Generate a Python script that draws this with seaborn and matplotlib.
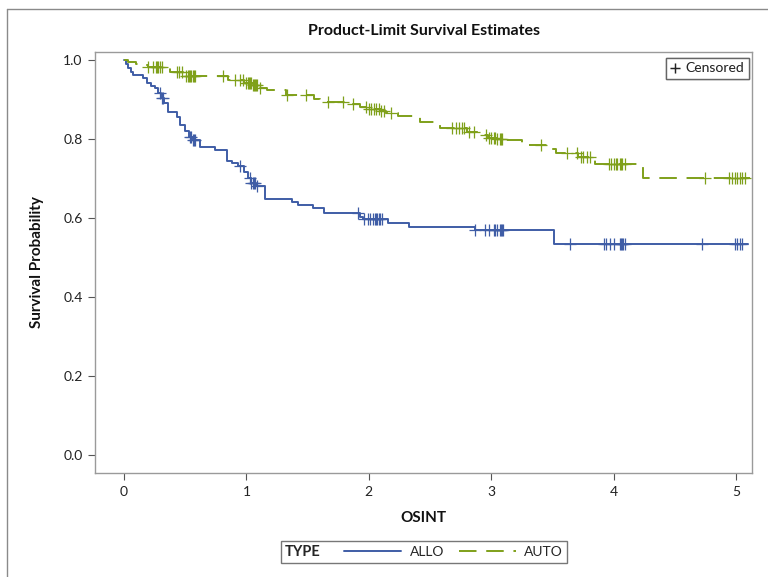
import numpy as np
import pandas as pd
import matplotlib
matplotlib.use("Agg")
import matplotlib.pyplot as plt
from matplotlib.lines import Line2D
from matplotlib.offsetbox import HPacker
import seaborn as sns

# ---- data ----
allo_time = [0.0, 0.02, 0.035, 0.06, 0.076, 0.158, 0.185, 0.22, 0.25, 0.28, 0.30, 0.33, 0.36,
             0.43, 0.46, 0.50, 0.53, 0.56, 0.62, 0.74, 0.84, 0.88, 0.93, 0.98, 1.01, 1.04,
             1.08, 1.15, 1.37, 1.42, 1.54, 1.63, 1.93, 1.95, 2.16, 2.33, 2.87, 3.51, 5.10]
allo_surv = [1.0, 0.99, 0.979, 0.97, 0.962, 0.954, 0.941, 0.935, 0.928, 0.915, 0.903, 0.89, 0.869,
             0.856, 0.835, 0.82, 0.805, 0.797, 0.78, 0.772, 0.745, 0.738, 0.732, 0.715, 0.70, 0.688,
             0.68, 0.647, 0.641, 0.633, 0.625, 0.612, 0.603, 0.597, 0.588, 0.576, 0.569, 0.533, 0.533]
allo_cens = [0.29, 0.31, 0.32, 0.54, 0.55, 0.56, 0.57, 0.58, 0.95, 1.03, 1.04, 1.05, 1.06, 1.07,
             1.09, 1.91, 1.96, 1.99, 2.01, 2.03, 2.05, 2.06, 2.07, 2.08, 2.09, 2.11, 2.87, 2.95,
             2.98, 3.02, 3.03, 3.045, 3.07, 3.08, 3.09, 3.10, 3.64, 3.92, 3.94, 3.97, 4.0, 4.05,
             4.06, 4.07, 4.08, 4.09, 4.72, 4.99, 5.01, 5.03, 5.05]

auto_time = [0.0, 0.03, 0.10, 0.16, 0.20, 0.35, 0.375, 0.48, 0.50, 0.85, 0.98, 1.05, 1.11, 1.17,
             1.32, 1.55, 1.60, 1.83, 1.93, 2.00, 2.10, 2.14, 2.24, 2.42, 2.58, 2.80, 2.90, 2.97,
             3.05, 3.10, 3.25, 3.46, 3.53, 3.71, 3.85, 4.24, 5.11]
auto_surv = [1.0, 0.995, 0.99, 0.987, 0.983, 0.979, 0.97, 0.964, 0.958, 0.949, 0.942, 0.937, 0.93,
             0.924, 0.911, 0.90, 0.894, 0.888, 0.882, 0.876, 0.87, 0.865, 0.857, 0.844, 0.827, 0.818,
             0.81, 0.803, 0.80, 0.796, 0.785, 0.774, 0.764, 0.754, 0.737, 0.702, 0.702]
auto_cens = [0.20, 0.24, 0.26, 0.27, 0.28, 0.29, 0.31, 0.43, 0.45, 0.47, 0.51, 0.52, 0.53, 0.54,
             0.55, 0.56, 0.57, 0.58, 0.81, 0.91, 0.95, 0.97, 1.0, 1.01, 1.02, 1.03, 1.04, 1.05,
             1.06, 1.07, 1.08, 1.09, 1.11, 1.33, 1.49, 1.67, 1.79, 1.87, 1.98, 2.0, 2.02, 2.04,
             2.06, 2.08, 2.10, 2.12, 2.18, 2.68, 2.71, 2.74, 2.76, 2.78, 2.82, 2.86, 2.96, 2.98,
             3.0, 3.02, 3.03, 3.05, 3.07, 3.08, 3.09, 3.41, 3.62, 3.70, 3.73, 3.75, 3.78, 3.81,
             3.96, 3.98, 4.0, 4.02, 4.03, 4.05, 4.06, 4.07, 4.09, 4.75, 4.94, 4.97, 4.99, 5.01,
             5.03, 5.05, 5.07]

x_ticks = [0, 1, 2, 3, 4, 5]
y_ticks = [0.0, 0.2, 0.4, 0.6, 0.8, 1.0]

BLUE = "#3F5DA6"
GREEN = "#7FA01A"

sns.set_theme(style="white")
plt.rcParams["font.family"] = ["Lato", "DejaVu Sans"]

fig = plt.figure(figsize=(7.68, 5.77), dpi=100)
ax = fig.add_axes([95 / 768, 1 - 473 / 577, (752 - 95) / 768, (473 - 52) / 577])


def step_value(times, survs, t):
    idx = np.searchsorted(np.asarray(times), t, side="right") - 1
    return np.asarray(survs)[idx]


df_allo = pd.DataFrame({"t": allo_time, "s": allo_surv})
df_auto = pd.DataFrame({"t": auto_time, "s": auto_surv})
cens_allo = pd.DataFrame({"t": allo_cens, "s": step_value(allo_time, allo_surv, allo_cens)})
cens_auto = pd.DataFrame({"t": auto_cens, "s": step_value(auto_time, auto_surv, auto_cens)})

sns.lineplot(data=df_allo, x="t", y="s", ax=ax, color=BLUE, lw=1.4,
             drawstyle="steps-post", estimator=None, sort=False)
sns.lineplot(data=df_auto, x="t", y="s", ax=ax, color=GREEN, lw=1.4,
             drawstyle="steps-post", estimator=None, sort=False, linestyle=(0, (9, 5)))
sns.scatterplot(data=cens_allo, x="t", y="s", ax=ax, marker="+", s=70, color=BLUE, linewidth=0.9)
sns.scatterplot(data=cens_auto, x="t", y="s", ax=ax, marker="+", s=70, color=GREEN, linewidth=0.9)

ax.set_xlim(-0.237, 5.13)
ax.set_ylim(-0.046, 1.02)
ax.set_xticks(x_ticks)
ax.set_xticklabels([str(v) for v in x_ticks])
ax.set_yticks(y_ticks)
ax.set_yticklabels([f"{v:.1f}" for v in y_ticks])
ax.tick_params(axis="both", direction="out", length=5, width=0.8, color="#555555",
               labelsize=10, labelcolor="#222222", left=True, bottom=True, pad=4)
for sp in ax.spines.values():
    sp.set_color("#9A9A9A")
    sp.set_linewidth(1.0)
ax.set_xlabel("OSINT", fontsize=11, fontweight="bold", labelpad=10, color="#111111")
ax.set_ylabel("Survival Probability", fontsize=11, fontweight="bold", labelpad=14, color="#111111")
ax.set_title("Product-Limit Survival Estimates", fontsize=11.5, fontweight="bold", pad=12, color="#111111")

# censored legend box (top-right inside axes)
cl = ax.legend(handles=[Line2D([], [], linestyle="none", marker="+", color="#222222", markersize=7)],
               labels=["Censored"], loc="upper right", frameon=True, fontsize=10,
               handlelength=0.7, handletextpad=0.45, borderpad=0.3, fancybox=False,
               bbox_to_anchor=(0.995, 0.985), borderaxespad=0.0)
cl.get_frame().set_edgecolor("#555555")
cl.get_frame().set_linewidth(1.0)
ax.add_artist(cl)

# bottom legend
handles = [Line2D([], [], color=BLUE, lw=1.4),
           Line2D([], [], color=GREEN, lw=1.4, linestyle=(0, (9, 5)))]
leg = fig.legend(handles=handles, labels=["ALLO", "AUTO"], loc="center",
                 bbox_to_anchor=(424 / 768, 1 - 552 / 577), ncol=2, frameon=True,
                 fontsize=10, handlelength=4.1, handletextpad=0.6, columnspacing=1.1,
                 title="TYPE", title_fontproperties={"weight": "bold", "size": 10.5},
                 borderpad=0.3, fancybox=False)
leg.get_frame().set_edgecolor("#555555")
leg.get_frame().set_linewidth(1.0)
title_box = leg._legend_title_box
handle_box = leg._legend_handle_box
leg._legend_box._children = [HPacker(pad=0, sep=17, children=[title_box, handle_box], align="center")]

# outer frame lines
fig.add_artist(Line2D([7 / 768, 7 / 768], [0, 1 - 9 / 577], color="#8A8A8A", lw=1.0))
fig.add_artist(Line2D([7 / 768, 1], [1 - 9 / 577, 1 - 9 / 577], color="#8A8A8A", lw=1.0))

fig.savefig("out.png", dpi=100)
